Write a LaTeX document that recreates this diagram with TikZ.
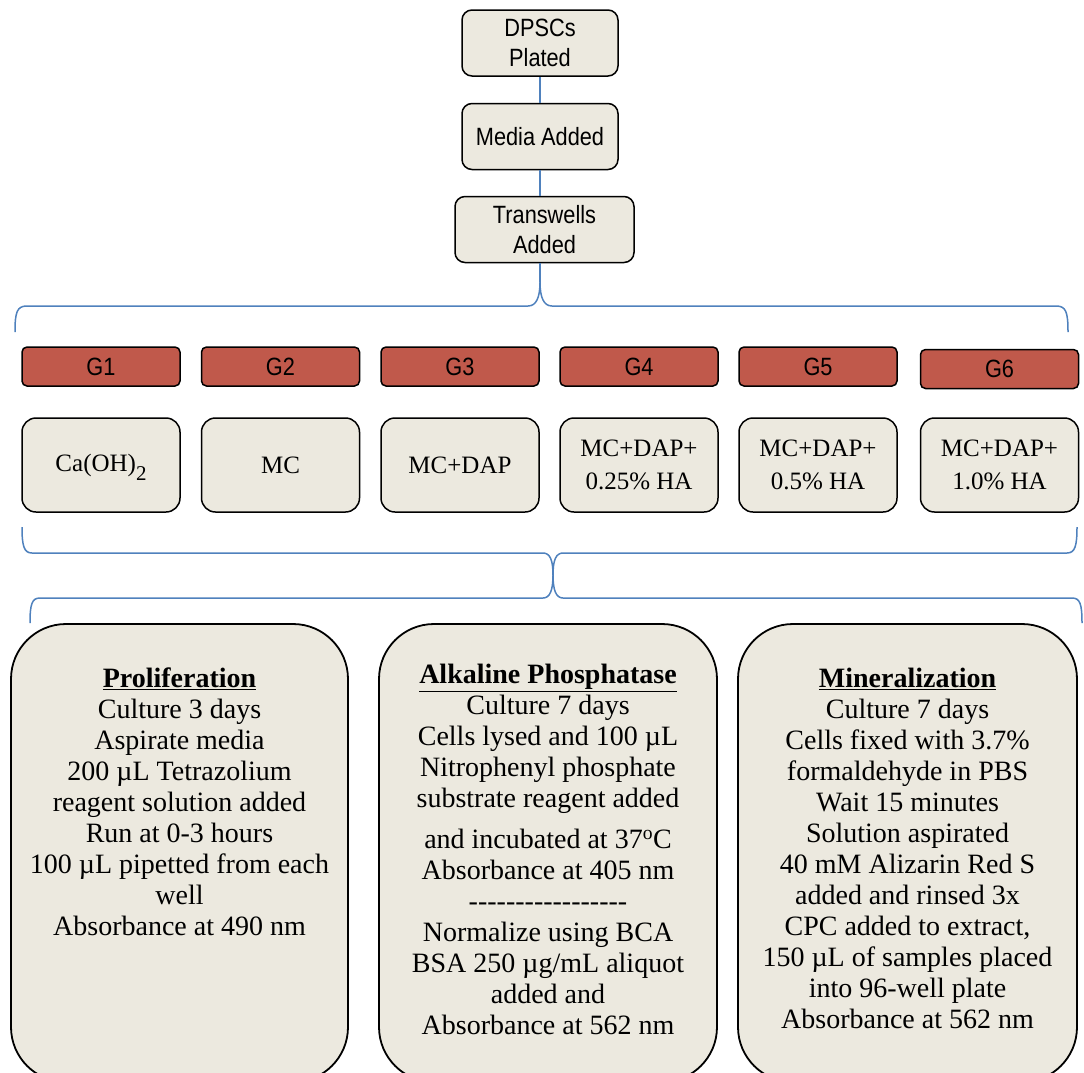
\documentclass[tikz,border=0pt]{standalone}
\usepackage{fontspec}
\setmainfont{Liberation Serif}
\newfontfamily\arialish[FakeStretch=0.87]{Liberation Sans}

\definecolor{boxfill}{HTML}{ECE9DF}
\definecolor{tagred}{HTML}{C0594B}
\definecolor{braceblue}{HTML}{4F81BD}

% a row of plain hyphens (no en-dash ligatures)
\newcommand{\hyphrow}[1]{\foreach \i in {1,...,#1}{-\kern0pt}}

\tikzset{
  link/.style={draw=braceblue, line width=1.5pt},
  flowbox/.style={draw, line width=1.5pt, fill=boxfill, rounded corners=10pt,
    minimum width=156pt, minimum height=66pt, inner sep=0pt, align=center,
    font=\arialish\fontsize{25}{30}\selectfont},
  grouptag/.style={draw, line width=1.5pt, fill=tagred, rounded corners=5pt,
    minimum width=158pt, minimum height=39pt, inner sep=0pt,
    font=\arialish\fontsize{25}{30}\selectfont},
  groupbox/.style={draw, line width=1.5pt, fill=boxfill, rounded corners=14pt,
    minimum width=158pt, minimum height=94pt, inner sep=0pt, align=center,
    font=\fontsize{25}{33}\selectfont},
  assaybox/.style={draw, line width=1.8pt, fill=boxfill, rounded corners=55pt,
    minimum width=337pt, minimum height=458pt, inner sep=0pt},
  assaytext/.style={anchor=north, inner sep=0pt, align=center,
    font=\fontsize{28}{31}\selectfont}
}

\begin{document}
\begin{tikzpicture}[x=1pt,y=-1pt]
  \useasboundingbox (0,0) rectangle (1084,1072);
  \clip (0,0) rectangle (1084,1072);

  % Seeding steps
  \node[flowbox] (plated) at (540,43) {DPSCs\\Plated};
  \node[flowbox] (media) at (540,136.5) {Media Added};
  \node[flowbox, minimum width=179pt] (transwells) at (544.5,229.5) {Transwells\\Added};

  \draw[link] (plated.south) -- (media.north);
  \draw[link] (media.south) -- (media.south |- transwells.north);

  % Brace over the six groups
  \coordinate (topTip) at (540,282);
  \draw[link] (media.south |- transwells.south) -- (topTip);
  \draw[link] (15,332) .. controls (15,312) and (17,306) .. (27,306) -- (528,306)
    .. controls (536,306) and (540,298) .. (topTip)
    .. controls (540,298) and (544,306) .. (552,306) -- (1056,306)
    .. controls (1066,306) and (1068,312) .. (1068,332);

  % Treatment groups
  \foreach \g/\x/\ty/\mix in {1/101/366.5/{Ca(OH)\raisebox{-9pt}[0pt][0pt]{\fontsize{21}{21}\selectfont 2}},
      2/280.5/366.5/{MC}, 3/460/366.5/{MC+DAP},
      4/639/366.5/{MC+DAP+\\0.25\% HA}, 5/818/366.5/{MC+DAP+\\0.5\% HA},
      6/999.5/369/{MC+DAP+\\1.0\% HA}} {
    \node[grouptag] (g\g) at (\x,\ty) {G\g};
    \node[groupbox] (mix\g) at (\x,465) {\mix};
  }

  % Brace under the groups, joined to the brace over the assays
  \coordinate (midTip) at (553,575);
  \draw[link] (22,527) .. controls (22,546) and (24,553) .. (32,553) -- (543,553)
    .. controls (550,553) and (553,560) .. (midTip)
    .. controls (553,560) and (556,553) .. (563,553) -- (1067,553)
    .. controls (1075,553) and (1077,546) .. (1077,527);
  \draw[link] (30,623) .. controls (30,604) and (32,598) .. (40,598) -- (543,598)
    .. controls (550,598) and (553,590) .. (midTip)
    .. controls (553,590) and (556,598) .. (563,598) -- (1072,598)
    .. controls (1080,598) and (1082,604) .. (1082,623);

  % Assays
  \node[assaybox] (prolif) at (179.5,853) {};
  \node[assaybox, minimum width=338pt] (alp) at (548,853) {};
  \node[assaybox, minimum width=339pt] (mineral) at (907.5,853) {};

  \node[assaytext] (prolifText) at (179.5,668)
    {\underline{\textbf{Proliferation}}\\
     Culture 3 days\\
     Aspirate media\\
     200 µL Tetrazolium\\
     reagent solution added\\
     Run at 0-3 hours\\
     100 µL pipetted from each\\
     well\\
     Absorbance at 490 nm};

  \node[assaytext] (alpText) at (548,664)
    {\underline{\textbf{Alkaline Phosphatase}}\\
     Culture 7 days\\
     Cells lysed and 100 µL\\
     Nitrophenyl phosphate\\
     substrate reagent added\\[10pt]
     and incubated at 37\textsuperscript{o}C\\
     Absorbance at 405 nm\\
     \hyphrow{17}\\
     Normalize using BCA\\
     BSA 250 µg/mL aliquot\\
     added and\\
     Absorbance at 562 nm};

  \node[assaytext] (mineralText) at (907.5,668)
    {\underline{\textbf{Mineralization}}\\
     Culture 7 days\\
     Cells fixed with 3.7\%\\
     formaldehyde in PBS\\
     Wait 15 minutes\\
     Solution aspirated\\
     40 mM Alizarin Red S\\
     added and rinsed 3x\\
     CPC added to extract,\\
     150 µL of samples placed\\
     into 96-well plate\\
     Absorbance at 562 nm};

\end{tikzpicture}
\end{document}
